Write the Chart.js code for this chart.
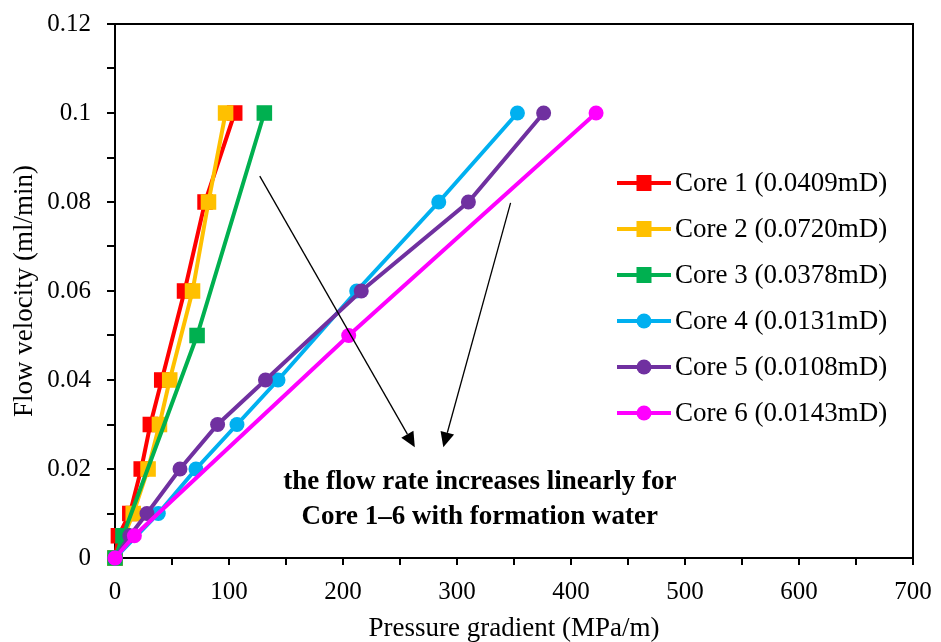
<!DOCTYPE html>
<html>
<head>
<meta charset="utf-8">
<script src="https://cdn.jsdelivr.net/npm/chart.js@4.4.1/dist/chart.umd.min.js"></script>
<style>
  html, body { margin: 0; padding: 0; background: #fff; }
</style>
</head>
<body>
<canvas id="myChart" width="941" height="642"></canvas>
<script>
// pressure gradient (MPa/m) and flow velocity (ml/min) for each core
const core1X = [0, 3, 13, 23, 31, 41, 61, 79, 105];
const core1Y = [0, 0.005, 0.01, 0.02, 0.03, 0.04, 0.06, 0.08, 0.1];
const core2X = [0, 16, 29, 39, 48, 68, 82, 97];
const core2Y = [0, 0.01, 0.02, 0.03, 0.04, 0.06, 0.08, 0.1];
const core3X = [0, 7, 72, 131];
const core3Y = [0, 0.005, 0.05, 0.1];
const core4X = [0, 38, 71, 107, 143, 212, 284, 353];
const core4Y = [0, 0.01, 0.02, 0.03, 0.04, 0.06, 0.08, 0.1];
const core5X = [0, 13, 28, 57, 90, 132, 216, 310, 376];
const core5Y = [0, 0.005, 0.01, 0.02, 0.03, 0.04, 0.06, 0.08, 0.1];
const core6X = [0, 17, 205, 422];
const core6Y = [0, 0.005, 0.05, 0.1];

const coreNames = ['Core 1 (0.0409mD)', 'Core 2 (0.0720mD)', 'Core 3 (0.0378mD)',
                   'Core 4 (0.0131mD)', 'Core 5 (0.0108mD)', 'Core 6 (0.0143mD)'];
const coreColors = ['#FF0000', '#FFC000', '#00B050', '#00B0F0', '#7030A0', '#FF00FF'];
const coreStyles = ['rect', 'rect', 'rect', 'circle', 'circle', 'circle'];

const noteLines = ['the flow rate increases linearly for', 'Core 1\u20136 with formation water'];

const serif = "'Liberation Serif', 'Times New Roman', serif";

const toPoints = (xs, ys) => xs.map((x, i) => ({ x: x, y: ys[i] }));
const allX = [core1X, core2X, core3X, core4X, core5X, core6X];
const allY = [core1Y, core2Y, core3Y, core4Y, core5Y, core6Y];

const datasets = coreNames.map((name, i) => ({
    label: name,
    data: toPoints(allX[i], allY[i]),
    borderColor: coreColors[i],
    backgroundColor: coreColors[i],
    borderWidth: 4,
    pointStyle: coreStyles[i],
    pointRadius: coreStyles[i] === 'rect' ? 11 : 7.5,
    pointBorderWidth: 0,
    showLine: true,
    clip: false,
    order: 6 - i
}));

const drawMarker = (ctx, style, x, y, color) => {
    ctx.fillStyle = color;
    if (style === 'rect') {
        ctx.fillRect(x - 7.5, y - 8, 15, 16);
    } else {
        ctx.beginPath();
        ctx.arc(x, y, 7.5, 0, Math.PI * 2);
        ctx.fill();
    }
};

const drawArrow = (ctx, x1, y1, x2, y2) => {
    const ang = Math.atan2(y2 - y1, x2 - x1);
    const len = 15, half = 7;
    const bx = x2 - len * Math.cos(ang), by = y2 - len * Math.sin(ang);
    ctx.strokeStyle = '#000';
    ctx.lineWidth = 1.3;
    ctx.beginPath();
    ctx.moveTo(x1, y1);
    ctx.lineTo(bx, by);
    ctx.stroke();
    ctx.fillStyle = '#000';
    ctx.beginPath();
    ctx.moveTo(x2, y2);
    ctx.lineTo(bx + half * Math.sin(ang), by - half * Math.cos(ang));
    ctx.lineTo(bx - half * Math.sin(ang), by + half * Math.cos(ang));
    ctx.closePath();
    ctx.fill();
};

const extras = {
    id: 'extras',
    afterDatasetsDraw(chart) {
        const ctx = chart.ctx;
        const area = chart.chartArea;
        const xs = chart.scales.x, ys = chart.scales.y;
        ctx.save();

        // frame on top and right
        ctx.strokeStyle = '#000';
        ctx.lineWidth = 2;
        ctx.beginPath();
        ctx.moveTo(area.left, area.top);
        ctx.lineTo(area.right, area.top);
        ctx.lineTo(area.right, area.bottom);
        ctx.stroke();

        // arrows
        drawArrow(ctx, xs.getPixelForValue(127), ys.getPixelForValue(0.0858),
                  xs.getPixelForValue(263), ys.getPixelForValue(0.0249));
        drawArrow(ctx, xs.getPixelForValue(347), ys.getPixelForValue(0.0798),
                  xs.getPixelForValue(288), ys.getPixelForValue(0.0249));

        // note text
        ctx.fillStyle = '#000';
        ctx.font = 'bold 27px ' + serif;
        ctx.textAlign = 'center';
        ctx.textBaseline = 'middle';
        ctx.fillText(noteLines[0], xs.getPixelForValue(320), ys.getPixelForValue(0.0171));
        ctx.fillText(noteLines[1], xs.getPixelForValue(320), ys.getPixelForValue(0.0092));

        // legend
        ctx.font = '27px ' + serif;
        ctx.textAlign = 'left';
        coreNames.forEach((name, i) => {
            const ly = 183 + i * 46;
            ctx.strokeStyle = coreColors[i];
            ctx.lineWidth = 4;
            ctx.beginPath();
            ctx.moveTo(617, ly);
            ctx.lineTo(671, ly);
            ctx.stroke();
            drawMarker(ctx, coreStyles[i], 644, ly, coreColors[i]);
            ctx.fillStyle = '#000';
            ctx.fillText(name, 675, ly + 1);
        });
        ctx.restore();
    }
};

const config = {
    type: 'scatter',
    data: { datasets: datasets },
    options: {
        responsive: false,
        animation: false,
        layout: { padding: { top: 24, right: 28, left: 0, bottom: 0 } },
        plugins: {
            legend: { display: false },
            tooltip: { enabled: false }
        },
        scales: {
            x: {
                type: 'linear',
                min: 0,
                max: 700,
                afterFit: (scale) => {
                    scale.height = 84;
                    scale.paddingLeft = 0;
                    scale.paddingRight = 0;
                },
                border: { color: '#000', width: 2 },
                grid: { drawOnChartArea: false, drawTicks: true, tickLength: 7, color: '#000', lineWidth: 2 },
                ticks: {
                    stepSize: 50,
                    autoSkip: false,
                    maxRotation: 0,
                    padding: 12,
                    color: '#000',
                    font: { family: serif, size: 25 },
                    callback: (v) => (v % 100 === 0 ? String(v) : '')
                },
                title: {
                    display: true,
                    text: 'Pressure gradient (MPa/m)',
                    color: '#000',
                    font: { family: serif, size: 27, lineHeight: 1.0 },
                    padding: 0
                }
            },
            y: {
                type: 'linear',
                min: 0,
                max: 0.12,
                afterFit: (scale) => {
                    scale.width = 115;
                    scale.paddingTop = 0;
                    scale.paddingBottom = 0;
                },
                border: { color: '#000', width: 2 },
                grid: { drawOnChartArea: false, drawTicks: true, tickLength: 8, color: '#000', lineWidth: 2 },
                ticks: {
                    stepSize: 0.01,
                    autoSkip: false,
                    padding: 16,
                    color: '#000',
                    font: { family: serif, size: 25 },
                    callback: (v) => (Math.round(v * 100) % 2 === 0 ? String(+v.toFixed(2)) : '')
                },
                title: {
                    display: true,
                    text: 'Flow velocity (ml/min)',
                    color: '#000',
                    font: { family: serif, size: 27, lineHeight: 1.0 },
                    padding: { top: 11, bottom: 0 }
                }
            }
        }
    },
    plugins: [extras]
};

const myChart = new Chart(document.getElementById('myChart'), config);
</script>
</body>
</html>
